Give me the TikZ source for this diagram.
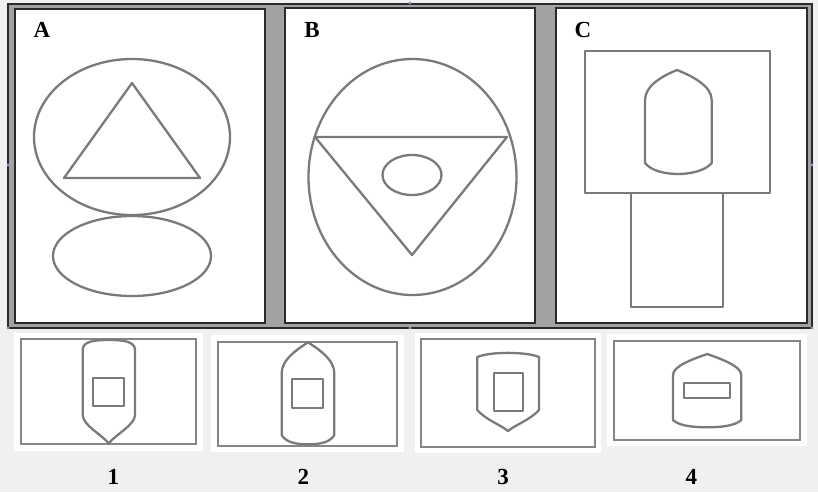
\documentclass[tikz,border=0pt]{standalone}
\usepackage{fontspec}
\setmainfont{Liberation Serif}
\definecolor{bgl}{HTML}{F0F0F0}
\definecolor{framegray}{HTML}{A2A2A2}
\definecolor{darkline}{HTML}{2A2A2A}
\definecolor{shapegray}{HTML}{7A7A7A}
\definecolor{optgray}{HTML}{868686}
\definecolor{handle}{HTML}{7C9CCC}
\begin{document}
\begin{tikzpicture}[x=1pt,y=-1pt,
  panel/.style={draw=darkline,line width=2.2pt,fill=white},
  shp/.style={draw=shapegray,line width=2.3pt,line join=round},
  optbox/.style={draw=optgray,line width=2.3pt,fill=white},
  optbg/.style={fill=white,draw=none},
  lab/.style={font=\fontsize{23}{23}\selectfont\bfseries,inner sep=0pt},
  hdl/.style={fill=handle,draw=none}]
\useasboundingbox (0,0) rectangle (818,492);
\fill[bgl] (0,0) rectangle (818,492);
% top frame
\draw[fill=framegray,draw=darkline,line width=2.2pt] (8,4) rectangle (812,328);
\draw[panel] (15,9) rectangle (265,323);
\draw[panel] (285,8) rectangle (535,323);
\draw[panel] (556,8) rectangle (807,323);
% handles
\foreach \p in {(8,165),(410,3),(410,328),(812,165),(8,328),(812,328)}
  \fill[hdl] \p circle (1.6pt);
% labels
\node[lab] (la) at (42,30) {A};
\node[lab] (lb) at (312,30) {B};
\node[lab] (lc) at (583,30) {C};
% panel A
\draw[shp] (132,137) ellipse [x radius=98pt, y radius=78pt];
\draw[shp] (132,83) -- (64,178) -- (200,178) -- cycle;
\draw[shp] (132,256) ellipse [x radius=79pt, y radius=40pt];
% panel B
\draw[shp] (412.5,177) ellipse [x radius=104pt, y radius=118pt];
\draw[shp] (315,137) -- (507,137) -- (412,255) -- cycle;
\draw[shp] (412,175) ellipse [x radius=29.5pt, y radius=20pt];
% panel C
\draw[shp] (585,51) rectangle (770,193);
\draw[shp] (631,193) -- (631,307) -- (723,307) -- (723,193);
\draw[shp] (645,163) -- (645,100) .. controls (645,86) and (662,76) .. (677,70)
  .. controls (692,76) and (711.7,86) .. (711.7,100) -- (711.7,163)
  .. controls (705,171) and (690,174) .. (678,174)
  .. controls (666,174) and (651,171) .. (645,163) -- cycle;
% option backgrounds
\fill[optbg] (14,333) rectangle (203,451);
\fill[optbg] (211,335) rectangle (404,452);
\fill[optbg] (415,333) rectangle (601,453);
\fill[optbg] (607,334) rectangle (807,446);
% option 1
\draw[optbox] (20.7,339.3) rectangle (196,444.3);
\draw[shp] (82.7,415) -- (82.7,350) .. controls (82.7,341) and (95,340) .. (108.8,340)
  .. controls (122,340) and (135,341) .. (135,350) -- (135,415)
  .. controls (135,425) and (115,435) .. (108.8,443.3)
  .. controls (102,435) and (82.7,425) .. (82.7,415) -- cycle;
\draw[shp] (93.3,377.7) rectangle (124,406);
% option 2
\draw[optbox] (218.3,341.7) rectangle (396.7,446);
\draw[shp] (281.7,435) -- (281.7,373) .. controls (281.7,360) and (296,350) .. (308,342.3)
  .. controls (320,350) and (334.3,360) .. (334.3,373) -- (334.3,435)
  .. controls (330,443) and (318,444.3) .. (308,444.3)
  .. controls (298,444.3) and (286,443) .. (281.7,435) -- cycle;
\draw[shp] (292.3,379.3) rectangle (322.7,407.7);
% option 3
\draw[optbox] (421.3,339.3) rectangle (594.7,447.3);
\draw[shp] (477.3,410) -- (477.3,357) .. controls (490,351.5) and (526,351.5) .. (539,357)
  -- (539,410) .. controls (530,420) and (515,425) .. (508,431)
  .. controls (501,425) and (486,420) .. (477.3,410) -- cycle;
\draw[shp] (494,372.7) rectangle (523,411);
% option 4
\draw[optbox] (614,340.7) rectangle (800.3,440);
\draw[shp] (673,420) -- (673,375) .. controls (673,366) and (693,359) .. (707.3,354)
  .. controls (721,359) and (741.3,366) .. (741.3,375) -- (741.3,420)
  .. controls (735,426) and (720,427.3) .. (707.3,427.3)
  .. controls (694,427.3) and (679,426) .. (673,420) -- cycle;
\draw[shp] (684,383.3) rectangle (730.3,398.3);
% option labels
\node[lab] (n1) at (113.3,476.7) {1};
\node[lab] (n2) at (303.3,476.7) {2};
\node[lab] (n3) at (503,476.7) {3};
\node[lab] (n4) at (691.3,476.7) {4};
\end{tikzpicture}
\end{document}
